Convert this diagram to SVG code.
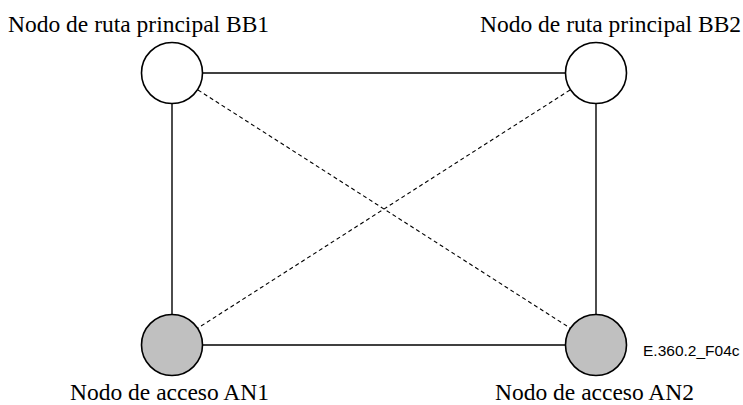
<svg xmlns="http://www.w3.org/2000/svg" width="743" height="405" viewBox="0 0 743 405">
<style>
.lbl{font-family:"Liberation Serif","Times New Roman",serif;font-size:23.5px;fill:#000}
.code{font-family:"Liberation Sans",Arial,sans-serif;font-size:15.5px;fill:#000}
.solid{stroke:#000;stroke-width:1.4;fill:none}
.dash{stroke:#000;stroke-width:1.1;fill:none;stroke-dasharray:4 3}
.bb{fill:#fff;stroke:#000;stroke-width:1.6}
.an{fill:#c0c0c0;stroke:#000;stroke-width:1.6}
</style>
<rect width="743" height="405" fill="#fff"/>
<g id="connectors">
<line class="solid" x1="172" y1="73" x2="596" y2="73"/>
<line class="solid" x1="172" y1="345" x2="596" y2="345"/>
<line class="solid" x1="172" y1="73" x2="172" y2="345"/>
<line class="solid" x1="596" y1="73" x2="596" y2="345"/>
<line class="dash" x1="198" y1="90" x2="570" y2="328"/>
<line class="dash" x1="570" y1="90" x2="198" y2="328"/>
</g>
<g id="BB1">
<circle class="bb" cx="172" cy="73" r="30.5"/>
<text class="lbl" x="8" y="32">Nodo de ruta principal BB1</text>
</g>
<g id="BB2">
<circle class="bb" cx="596" cy="73" r="30.5"/>
<text class="lbl" x="480" y="32">Nodo de ruta principal BB2</text>
</g>
<g id="AN1">
<circle class="an" cx="172" cy="345" r="30.5"/>
<text class="lbl" x="70" y="400">Nodo de acceso AN1</text>
</g>
<g id="AN2">
<circle class="an" cx="596" cy="345" r="30.5"/>
<text class="lbl" x="495" y="400">Nodo de acceso AN2</text>
</g>
<text class="code" x="643" y="356">E.360.2_F04c</text>
</svg>
